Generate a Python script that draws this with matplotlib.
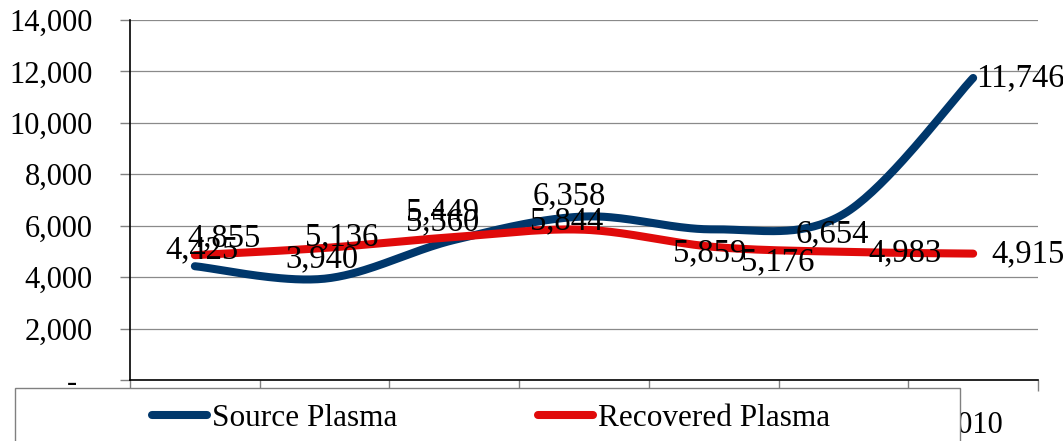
import numpy as np
import matplotlib
matplotlib.use('Agg')
import matplotlib.pyplot as plt
from matplotlib.patches import Rectangle

plt.rcParams['font.family'] = ['Liberation Serif', 'DejaVu Serif']

# data
years = ['2004', '2005', '2006', '2007', '2008', '2009', '2010']
source = [4425, 3940, 5449, 6358, 5859, 6450, 11746]
recovered = [4855, 5136, 5560, 5844, 5176, 4983, 4915]
source_labels = ['4,425', '3,940', '5,449', '6,358', '5,859', '6,654', '11,746']
recovered_labels = ['4,855', '5,136', '5,560', '5,844', '5,176', '4,983', '4,915']

# label offsets (pixels) as they sit in the original chart
source_off = [(7, 16), (-3, 20), (-12, 28), (-15, 20), (-4, -24), (-11, -20), (47, 0)]
recovered_off = [(29, 17), (17, 11), (-12, 15), (-17, 9), (64, -15), (62, -1), (55, 0)]

blue = '#00376B'
red = '#E00A0A'


def smooth(y, n=40):
    # Catmull-Rom, like the smoothed line option in spreadsheet charts
    y = np.asarray(y, dtype=float)
    x = np.arange(len(y), dtype=float)
    pts = np.column_stack([x, y])
    pts = np.vstack([pts[0], pts, pts[-1]])
    out = []
    t = np.linspace(0, 1, n)
    for i in range(1, len(pts) - 2):
        p0, p1, p2, p3 = pts[i - 1], pts[i], pts[i + 1], pts[i + 2]
        c1 = p1 + (p2 - p0) / 6
        c2 = p2 - (p3 - p1) / 6
        seg = ((1 - t) ** 3)[:, None] * p1 + (3 * (1 - t) ** 2 * t)[:, None] * c1 \
            + (3 * (1 - t) * t ** 2)[:, None] * c2 + (t ** 3)[:, None] * p2
        out.append(seg)
    out = np.vstack(out)
    return out[:, 0], out[:, 1]


fig = plt.figure(figsize=(10.63, 4.41), dpi=100)
ax = fig.add_axes([130 / 1063, 61 / 441, 908 / 1063, 360 / 441])

xs, ys = smooth(source)
ax.plot(xs, ys, color=blue, lw=5.8, solid_capstyle='round', label='Source Plasma', zorder=3)
xr, yr = smooth(recovered)
ax.plot(xr, yr, color=red, lw=5.8, solid_capstyle='round', label='Recovered Plasma', zorder=3)

for i, (v, lab) in enumerate(zip(source, source_labels)):
    ax.annotate(lab, (i, v), xytext=source_off[i], textcoords='offset pixels',
                ha='center', va='center', fontsize=23.5, zorder=5)
for i, (v, lab) in enumerate(zip(recovered, recovered_labels)):
    ax.annotate(lab, (i, v), xytext=recovered_off[i], textcoords='offset pixels',
                ha='center', va='center', fontsize=23.5, zorder=5)

ax.set_xlim(-0.5, len(years) - 0.5)
ax.set_ylim(0, 14000)
yt = np.arange(0, 14001, 2000)
ax.set_yticks(yt)
ax.set_yticklabels(['-  '] + [f'{v:,}' for v in yt[1:]], fontsize=22)
ax.set_xticks(np.arange(len(years)))
# only the last year peeks out from behind the legend box
ax.set_xticklabels([y if i == len(years) - 1 else '' for i, y in enumerate(years)], fontsize=22)
ax.set_xticks(np.arange(len(years) + 1) - 0.5, minor=True)
ax.tick_params(axis='x', which='major', length=0, pad=22)
ax.tick_params(axis='x', which='minor', length=8, color='#808080', width=1)
ax.tick_params(axis='y', length=7, color='#808080', width=1, pad=20)

for v in yt[1:]:
    ax.axhline(v, color='#8a8a8a', lw=0.9, zorder=1)
for s in ['top', 'right']:
    ax.spines[s].set_visible(False)
ax.spines['left'].set_linewidth(1.2)
ax.spines['bottom'].set_linewidth(1.2)

# legend box covering the category labels
fig.patches.append(Rectangle((15 / 1063, -0.05), 945 / 1063, 0.05 + 53 / 441,
                             transform=fig.transFigure, facecolor='white',
                             edgecolor='#808080', lw=1, zorder=2))
h, l = ax.get_legend_handles_labels()
fig.legend(h, l, loc='center', bbox_to_anchor=(491 / 1063, 1 - 418 / 441), ncol=2,
           frameon=False, fontsize=22.5, handlelength=1.76, handletextpad=0.15,
           columnspacing=4.5).set_zorder(3)

fig.savefig('out.png', dpi=100)
